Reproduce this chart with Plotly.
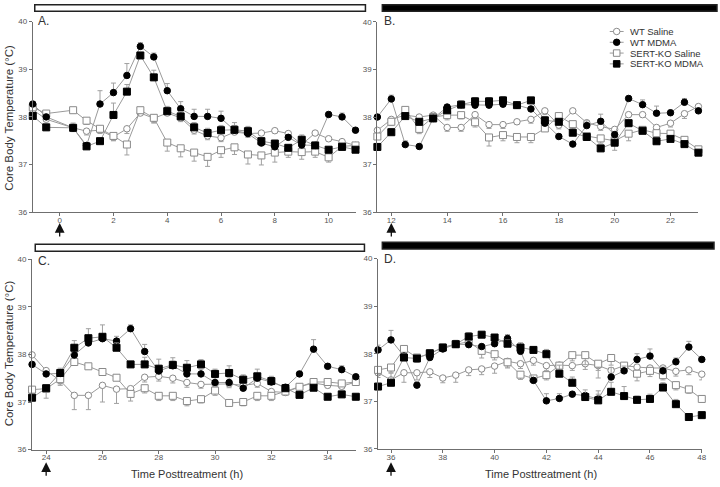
import plotly.graph_objects as go

# ---------------- data ----------------
series_names = ["WT Saline", "WT MDMA", "SERT-KO Saline", "SERT-KO MDMA"]
panel_labels = ["A.", "B.", "C.", "D."]

A_time = [-1, -0.5, 0.5, 1, 1.5, 2, 2.5, 3, 3.5, 4, 4.5, 5, 5.5, 6, 6.5, 7, 7.5, 8, 8.5, 9, 9.5, 10, 10.5, 11]
A_wt_sal = [38.15, 37.95, 37.77, 37.70, 37.72, 37.58, 37.75, 38.08, 37.97, 38.08, 37.98, 37.72, 37.60, 37.56, 37.68, 37.65, 37.66, 37.71, 37.65, 37.42, 37.66, 37.54, 37.48, 37.40]
A_wt_mdma = [38.27, 38.00, 37.77, 37.40, 38.27, 38.51, 38.87, 39.48, 39.26, 38.55, 38.17, 38.01, 38.01, 37.97, 37.72, 37.65, 37.45, 37.37, 37.57, 37.41, 37.40, 38.05, 38.00, 37.72]
A_ko_sal = [38.20, 38.07, 38.14, 37.92, 37.75, 37.60, 37.42, 38.14, 37.98, 37.46, 37.34, 37.25, 37.16, 37.30, 37.36, 37.21, 37.19, 37.25, 37.27, 37.26, 37.27, 37.15, 37.38, 37.40]
A_ko_mdma = [38.02, 37.78, 37.77, 37.38, 37.49, 38.04, 38.53, 39.29, 38.83, 38.12, 38.01, 37.78, 37.66, 37.72, 37.73, 37.70, 37.49, 37.44, 37.35, 37.52, 37.40, 37.31, 37.37, 37.31]
A_err_wt_sal = [0.05, 0.05, 0.08, 0.08, 0.05, 0.08, 0.10, 0.05, 0.10, 0.05, 0.08, 0.08, 0.08, 0.08, 0.05, 0.08, 0.05, 0.05, 0.05, 0.10, 0.05, 0.05, 0.05, 0.05]
A_err_wt_mdma = [0.05, 0.05, 0.05, 0.05, 0.28, 0.20, 0.25, 0.08, 0.08, 0.15, 0.15, 0.15, 0.15, 0.15, 0.10, 0.10, 0.05, 0.05, 0.05, 0.10, 0.05, 0.05, 0.08, 0.05]
A_err_ko_sal = [0.05, 0.05, 0.05, 0.08, 0.10, 0.10, 0.22, 0.05, 0.10, 0.18, 0.18, 0.18, 0.20, 0.15, 0.15, 0.20, 0.20, 0.20, 0.12, 0.15, 0.12, 0.10, 0.08, 0.05]
A_err_ko_mdma = [0.05, 0.05, 0.10, 0.05, 0.05, 0.25, 0.15, 0.05, 0.15, 0.10, 0.10, 0.10, 0.10, 0.10, 0.15, 0.10, 0.05, 0.05, 0.05, 0.10, 0.05, 0.05, 0.05, 0.05]

B_time = [11.5, 12, 12.5, 13, 13.5, 14, 14.5, 15, 15.5, 16, 16.5, 17, 17.5, 18, 18.5, 19, 19.5, 20, 20.5, 21, 21.5, 22, 22.5, 23]
B_wt_sal = [37.72, 37.95, 38.04, 38.00, 38.04, 37.78, 37.78, 38.05, 37.84, 37.84, 37.90, 37.95, 38.13, 37.83, 38.13, 37.88, 37.80, 37.74, 38.05, 38.05, 37.78, 37.87, 38.07, 38.22]
B_wt_mdma = [38.00, 38.38, 37.42, 37.38, 37.97, 38.21, 38.26, 38.25, 38.25, 38.27, 38.25, 38.17, 37.87, 37.59, 37.43, 37.82, 37.91, 37.63, 38.39, 38.26, 38.08, 38.09, 38.31, 38.13]
B_ko_sal = [37.59, 37.90, 38.15, 37.75, 38.00, 38.04, 38.04, 37.89, 37.57, 37.62, 37.58, 37.58, 37.76, 38.02, 37.85, 37.60, 37.55, 37.50, 37.65, 37.73, 37.66, 37.65, 37.52, 37.32]
B_ko_mdma = [37.37, 37.68, 38.02, 37.90, 37.97, 38.14, 38.26, 38.33, 38.33, 38.35, 38.25, 38.35, 37.93, 37.90, 37.67, 37.58, 37.34, 37.46, 37.87, 37.71, 37.49, 37.54, 37.43, 37.25]
B_err_wt_sal = [0.05, 0.10, 0.05, 0.05, 0.05, 0.08, 0.08, 0.05, 0.08, 0.08, 0.05, 0.08, 0.08, 0.08, 0.05, 0.08, 0.08, 0.05, 0.05, 0.05, 0.08, 0.08, 0.10, 0.05]
B_err_wt_mdma = [0.05, 0.08, 0.08, 0.05, 0.05, 0.05, 0.08, 0.05, 0.08, 0.08, 0.05, 0.05, 0.08, 0.05, 0.05, 0.10, 0.15, 0.05, 0.05, 0.10, 0.15, 0.05, 0.08, 0.05]
B_err_ko_sal = [0.05, 0.08, 0.05, 0.10, 0.08, 0.10, 0.08, 0.10, 0.18, 0.12, 0.12, 0.12, 0.05, 0.10, 0.10, 0.08, 0.10, 0.20, 0.15, 0.08, 0.08, 0.08, 0.05, 0.05]
B_err_ko_mdma = [0.05, 0.08, 0.05, 0.05, 0.05, 0.05, 0.08, 0.08, 0.08, 0.08, 0.05, 0.05, 0.08, 0.05, 0.05, 0.08, 0.05, 0.05, 0.05, 0.08, 0.05, 0.05, 0.05, 0.05]

C_time = [23.5, 24, 24.5, 25, 25.5, 26, 26.5, 27, 27.5, 28, 28.5, 29, 29.5, 30, 30.5, 31, 31.5, 32, 32.5, 33, 33.5, 34, 34.5, 35]
C_wt_sal = [37.99, 37.66, 37.45, 37.14, 37.14, 37.35, 37.27, 37.28, 37.52, 37.54, 37.50, 37.41, 37.37, 37.38, 37.38, 37.35, 37.39, 37.22, 37.20, 37.32, 37.40, 37.35, 37.33, 37.42]
C_wt_mdma = [37.79, 37.59, 37.60, 37.99, 38.24, 38.33, 38.28, 38.54, 38.06, 37.65, 37.76, 37.59, 37.59, 37.41, 37.41, 37.29, 37.50, 37.42, 37.31, 37.59, 38.11, 37.75, 37.68, 37.53]
C_ko_sal = [37.26, 37.28, 37.48, 37.84, 37.75, 37.63, 37.51, 37.17, 37.29, 37.13, 37.13, 37.02, 37.06, 37.24, 36.98, 37.00, 37.13, 37.13, 37.22, 37.32, 37.42, 37.42, 37.39, 37.42]
C_ko_mdma = [37.09, 37.29, 37.61, 38.14, 38.34, 38.37, 38.14, 37.79, 37.79, 37.70, 37.78, 37.72, 37.79, 37.59, 37.61, 37.47, 37.54, 37.44, 37.29, 37.15, 37.30, 37.11, 37.16, 37.11]
C_err_wt_sal = [0.05, 0.05, 0.10, 0.30, 0.30, 0.35, 0.30, 0.10, 0.10, 0.10, 0.10, 0.10, 0.08, 0.08, 0.08, 0.08, 0.08, 0.08, 0.05, 0.05, 0.05, 0.05, 0.05, 0.05]
C_err_wt_mdma = [0.05, 0.05, 0.05, 0.10, 0.10, 0.10, 0.10, 0.08, 0.15, 0.10, 0.10, 0.10, 0.10, 0.10, 0.10, 0.10, 0.10, 0.10, 0.05, 0.05, 0.20, 0.05, 0.08, 0.05]
C_err_ko_sal = [0.20, 0.20, 0.10, 0.05, 0.05, 0.05, 0.05, 0.15, 0.10, 0.10, 0.10, 0.10, 0.08, 0.10, 0.05, 0.08, 0.10, 0.10, 0.05, 0.05, 0.05, 0.05, 0.05, 0.05]
C_err_ko_mdma = [0.05, 0.05, 0.10, 0.15, 0.20, 0.25, 0.10, 0.05, 0.15, 0.20, 0.15, 0.15, 0.10, 0.10, 0.15, 0.10, 0.15, 0.10, 0.05, 0.05, 0.05, 0.05, 0.05, 0.05]

D_time = [35.5, 36, 36.5, 37, 37.5, 38, 38.5, 39, 39.5, 40, 40.5, 41, 41.5, 42, 42.5, 43, 43.5, 44, 44.5, 45, 45.5, 46, 46.5, 47, 47.5, 48]
D_wt_sal = [37.60, 37.45, 37.60, 37.60, 37.62, 37.49, 37.55, 37.66, 37.68, 37.74, 37.84, 37.79, 37.86, 37.75, 37.76, 37.75, 37.79, 37.75, 37.65, 37.75, 37.72, 37.70, 37.70, 37.63, 37.66, 37.57]
D_wt_mdma = [38.08, 38.29, 37.95, 37.34, 37.92, 38.10, 38.20, 38.19, 38.15, 38.21, 38.32, 38.05, 37.44, 37.01, 37.06, 37.15, 37.12, 37.05, 37.51, 37.64, 37.88, 37.95, 37.64, 37.83, 38.14, 37.88]
D_ko_sal = [37.66, 37.71, 38.10, 37.92, 38.00, 38.13, 38.20, 38.25, 38.06, 37.99, 37.82, 37.56, 37.48, 37.55, 37.75, 37.97, 37.97, 37.79, 37.91, 37.75, 37.58, 37.64, 37.55, 37.34, 37.25, 37.05]
D_ko_mdma = [37.31, 37.39, 37.92, 37.90, 38.01, 38.13, 38.20, 38.36, 38.40, 38.34, 38.21, 38.13, 38.08, 37.99, 37.58, 37.39, 37.09, 37.02, 37.20, 37.11, 37.03, 37.05, 37.29, 36.94, 36.67, 36.71]
D_err_wt_sal = [0.10, 0.12, 0.20, 0.15, 0.12, 0.10, 0.15, 0.12, 0.12, 0.15, 0.12, 0.10, 0.10, 0.10, 0.12, 0.10, 0.12, 0.10, 0.10, 0.10, 0.12, 0.12, 0.10, 0.10, 0.10, 0.12]
D_err_wt_mdma = [0.10, 0.20, 0.08, 0.05, 0.05, 0.05, 0.08, 0.10, 0.05, 0.05, 0.08, 0.10, 0.05, 0.15, 0.10, 0.05, 0.05, 0.10, 0.20, 0.10, 0.12, 0.15, 0.08, 0.08, 0.12, 0.05]
D_err_ko_sal = [0.10, 0.10, 0.05, 0.10, 0.10, 0.05, 0.05, 0.05, 0.15, 0.12, 0.12, 0.10, 0.08, 0.10, 0.10, 0.12, 0.20, 0.30, 0.15, 0.12, 0.15, 0.12, 0.10, 0.10, 0.08, 0.05]
D_err_ko_mdma = [0.05, 0.20, 0.08, 0.05, 0.05, 0.05, 0.08, 0.08, 0.05, 0.05, 0.08, 0.10, 0.05, 0.10, 0.18, 0.12, 0.15, 0.20, 0.20, 0.20, 0.08, 0.10, 0.10, 0.10, 0.05, 0.05]

x_ranges = [[-1, 11], [11.5, 23], [23.5, 35], [35.5, 48]]
x_ticks = [[0, 2, 4, 6, 8, 10], [12, 14, 16, 18, 20, 22], [24, 26, 28, 30, 32, 34], [36, 38, 40, 42, 44, 46, 48]]
y_ticks = [36, 37, 38, 39, 40]
injection_times = [0, 12, 24, 36]
light_phase = ["light", "dark", "light", "dark"]

panels = [
    (A_time, [A_wt_sal, A_wt_mdma, A_ko_sal, A_ko_mdma], [A_err_wt_sal, A_err_wt_mdma, A_err_ko_sal, A_err_ko_mdma]),
    (B_time, [B_wt_sal, B_wt_mdma, B_ko_sal, B_ko_mdma], [B_err_wt_sal, B_err_wt_mdma, B_err_ko_sal, B_err_ko_mdma]),
    (C_time, [C_wt_sal, C_wt_mdma, C_ko_sal, C_ko_mdma], [C_err_wt_sal, C_err_wt_mdma, C_err_ko_sal, C_err_ko_mdma]),
    (D_time, [D_wt_sal, D_wt_mdma, D_ko_sal, D_ko_mdma], [D_err_wt_sal, D_err_wt_mdma, D_err_ko_sal, D_err_ko_mdma]),
]

# ---------------- styling ----------------
W, H = 720, 487
FONT = "Liberation Sans, Arial, sans-serif"
LINE_GREY = "#9a9a9a"
EDGE_GREY = "#8a8a8a"
AX_GREY = "#6f6f6f"

styles = {
    "WT Saline": dict(symbol="circle", color="white", edge=EDGE_GREY, dir="down", size=6.5),
    "WT MDMA": dict(symbol="circle", color="black", edge="black", dir="up", size=6.5),
    "SERT-KO Saline": dict(symbol="square", color="white", edge=EDGE_GREY, dir="down", size=7),
    "SERT-KO MDMA": dict(symbol="square", color="black", edge="black", dir="up", size=7),
}
draw_order = [0, 2, 1, 3]

def px_x(p):
    return p / W

def px_y(p):
    return (H - p) / H

# panel plotting areas in pixels: (left, right, top(y=40), bottom(y=36))
areas = [(33, 358, 18, 212), (380, 703.3, 18.3, 212), (32.3, 358.3, 260, 454), (380.7, 706.7, 259.3, 453.3)]

fig = go.Figure()

for i, (t, vals, errs) in enumerate(panels):
    xa = "x" if i == 0 else f"x{i+1}"
    ya = "y" if i == 0 else f"y{i+1}"
    for k in draw_order:
        name = series_names[k]
        st = styles[name]
        e = errs[k]
        zeros = [0] * len(e)
        if st["dir"] == "up":
            ey = dict(type="data", symmetric=False, array=e, arrayminus=zeros,
                      color="#a0a0a0", thickness=1, width=2.5)
        else:
            ey = dict(type="data", symmetric=False, array=zeros, arrayminus=e,
                      color="#a0a0a0", thickness=1, width=2.5)
        fig.add_trace(go.Scatter(
            x=t, y=vals[k], mode="lines+markers", name=name,
            xaxis=xa, yaxis=ya, showlegend=False,
            line=dict(color=LINE_GREY, width=1),
            marker=dict(symbol=st["symbol"], size=st["size"], color=st["color"],
                        line=dict(color=st["edge"], width=1)),
            error_y=ey, cliponaxis=False,
        ))

layout = dict(
    width=W, height=H, margin=dict(l=0, r=0, t=0, b=0),
    paper_bgcolor="white", plot_bgcolor="white",
    font=dict(family=FONT, color="#444"),
    showlegend=False,
)

for i, (l, r, top, bot) in enumerate(areas):
    xk = "xaxis" if i == 0 else f"xaxis{i+1}"
    yk = "yaxis" if i == 0 else f"yaxis{i+1}"
    ya = "y" if i == 0 else f"y{i+1}"
    xa = "x" if i == 0 else f"x{i+1}"
    layout[xk] = dict(domain=[px_x(l), px_x(r)], range=x_ranges[i], anchor=ya,
                      tickvals=x_ticks[i], ticks="outside", ticklen=3, tickcolor=AX_GREY,
                      ticklabelstandoff=-3,
                      showline=True, linecolor=AX_GREY, linewidth=1, showgrid=False,
                      zeroline=False, tickfont=dict(size=8, color="#555", family=FONT))
    layout[yk] = dict(domain=[px_y(bot), px_y(top)], range=[36, 40], anchor=xa,
                      tickvals=y_ticks, ticks="outside", ticklen=3, tickcolor=AX_GREY,
                      showline=True, linecolor=AX_GREY, linewidth=1, showgrid=False,
                      zeroline=False, tickfont=dict(size=8, color="#555", family=FONT))

fig.update_layout(**layout)

shapes = []
annotations = []

# light/dark phase bars
bars = [(35, 368, 0.8, 7.3), (385, 722, 0.8, 7.3), (35.5, 367, 244.7, 251.8), (385, 719, 242.7, 249.5)]
for (x0, x1, y0, y1), phase in zip(bars, light_phase):
    shapes.append(dict(type="rect", xref="paper", yref="paper",
                       x0=px_x(x0), x1=px_x(x1), y0=px_y(y1), y1=px_y(y0),
                       fillcolor="white" if phase == "light" else "black",
                       line=dict(color="#222", width=1.5)))

# panel labels
label_pos = [(36, 17), (385, 17), (36, 262), (385, 260)]
for lab, (x, y) in zip(panel_labels, label_pos):
    annotations.append(dict(text=lab, xref="paper", yref="paper", x=px_x(x), y=px_y(y),
                            xanchor="left", yanchor="middle", showarrow=False,
                            font=dict(size=12, color="#333", family=FONT)))

# injection arrows
arrow_tip_y = [223, 223, 467, 467]
for i, (tinj, ty) in enumerate(zip(injection_times, arrow_tip_y)):
    xa = "x" if i == 0 else f"x{i+1}"
    annotations.append(dict(text="", xref=xa, yref="paper", x=tinj, y=px_y(ty),
                            showarrow=True, ax=0, ay=15, arrowhead=2, arrowsize=1.5,
                            arrowwidth=1.3, arrowcolor="#111"))

# axis titles
for yc in (116, 356):
    annotations.append(dict(text="Core Body Temperature (°C)", xref="paper", yref="paper",
                            x=px_x(9), y=px_y(yc), textangle=-90, showarrow=False,
                            xanchor="center", yanchor="middle",
                            font=dict(size=11.5, color="#333", family=FONT)))
for xc in (188, 545):
    annotations.append(dict(text="Time Posttreatment (h)", xref="paper", yref="paper",
                            x=px_x(xc), y=px_y(479), showarrow=False,
                            xanchor="center", yanchor="middle",
                            font=dict(size=11, color="#333", family=FONT)))

# custom legend (panel B)
leg_rows = [28, 39, 50, 61]
mx, tx = 621, 632
for name, ry in zip(series_names, leg_rows):
    st = styles[name]
    shapes.append(dict(type="line", xref="paper", yref="paper",
                       x0=px_x(mx - 7), x1=px_x(mx + 7), y0=px_y(ry), y1=px_y(ry),
                       line=dict(color=LINE_GREY, width=1)))
    r = 3.3
    shapes.append(dict(type="circle" if st["symbol"] == "circle" else "rect",
                       xref="paper", yref="paper",
                       x0=px_x(mx - r), x1=px_x(mx + r), y0=px_y(ry + r), y1=px_y(ry - r),
                       fillcolor=st["color"], line=dict(color=st["edge"], width=1)))
    annotations.append(dict(text=name, xref="paper", yref="paper", x=px_x(tx), y=px_y(ry),
                            xanchor="left", yanchor="middle", showarrow=False,
                            font=dict(size=9.5, color="#333", family=FONT)))

fig.update_layout(shapes=shapes, annotations=annotations)
fig.write_html("out.html", config={"displayModeBar": False},
               post_script="document.body.style.margin='0';document.body.style.padding='0';")
